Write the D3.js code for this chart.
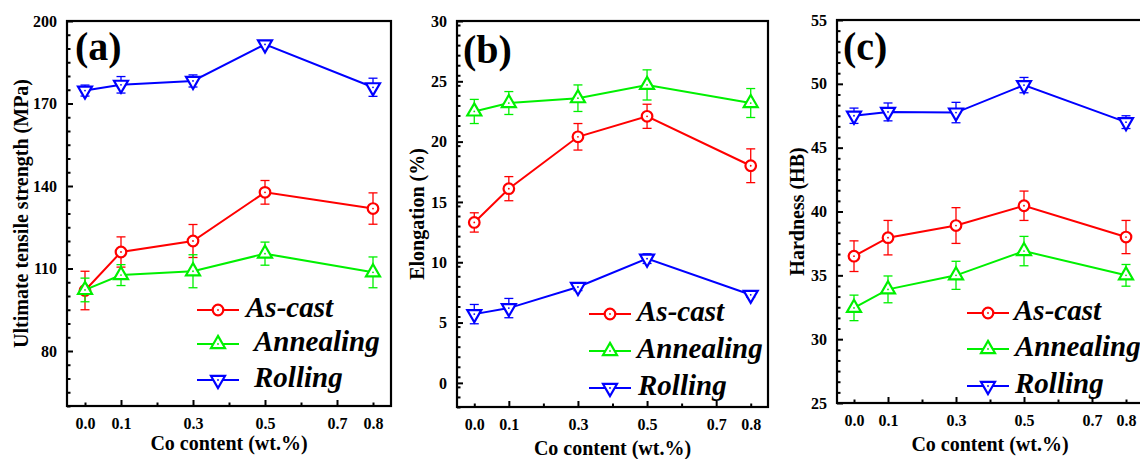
<!DOCTYPE html>
<html>
<head>
<meta charset="utf-8">
<script src="https://cdn.jsdelivr.net/npm/d3@7"></script>
<style>
  html, body { margin: 0; padding: 0; background: #fff; }
  svg { display: block; }
  text { font-family: "Liberation Serif", "Times New Roman", serif; font-weight: bold; fill: #000; }
</style>
</head>
<body>
<svg id="chart" width="1140" height="459"></svg>
<script>
// ---------------- DATA ----------------
const coContent = [0.0, 0.1, 0.3, 0.5, 0.8];
const xTickLabelValues = [0.0, 0.1, 0.3, 0.5, 0.7, 0.8];
const xTickLabels = ["0.0", "0.1", "0.3", "0.5", "0.7", "0.8"];
const xMajorTicks = [0.1, 0.3, 0.5, 0.7];
const xMinorTicks = [0.0, 0.2, 0.4, 0.6, 0.8];
const seriesNames = ["As-cast", "Annealing", "Rolling"];
const seriesColors = ["#ff0000", "#00f000", "#0000ff"];
const seriesMarkers = ["circle", "triangleUp", "triangleDown"];

// (a) Ultimate tensile strength (MPa)
const utsAsCast = [102.0, 116.0, 120.0, 137.7, 131.8];
const utsAsCastErr = [7.0, 5.5, 6.0, 4.3, 5.7];
const utsAnnealing = [102.2, 107.6, 109.0, 115.4, 108.6];
const utsAnnealingErr = [4.3, 3.8, 6.0, 4.2, 5.6];
const utsRolling = [174.7, 176.8, 178.2, 191.5, 175.9];
const utsRollingErr = [2.0, 3.0, 2.2, 1.0, 3.3];
const utsTicks = [80, 110, 140, 170, 200];

// (b) Elongation (%)
const elAsCast = [13.3, 16.1, 20.4, 22.1, 18.0];
const elAsCastErr = [0.8, 1.0, 1.1, 1.0, 1.4];
const elAnnealing = [22.5, 23.2, 23.6, 24.7, 23.2];
const elAnnealingErr = [1.0, 0.95, 1.1, 1.25, 1.2];
const elRolling = [5.7, 6.2, 7.95, 10.3, 7.3];
const elRollingErr = [0.8, 0.8, 0.3, 0.4, 0.2];
const elTicks = [0, 5, 10, 15, 20, 25, 30];

// (c) Hardness (HB)
const hbAsCast = [36.5, 37.95, 38.9, 40.45, 38.0];
const hbAsCastErr = [1.2, 1.35, 1.4, 1.15, 1.3];
const hbAnnealing = [32.45, 33.9, 35.0, 36.9, 35.0];
const hbAnnealingErr = [1.0, 1.05, 1.1, 1.15, 0.85];
const hbRolling = [47.5, 47.8, 47.75, 49.9, 47.0];
const hbRollingErr = [0.6, 0.7, 0.8, 0.6, 0.5];
const hbTicks = [25, 30, 35, 40, 45, 50, 55];

// ---------------- LAYOUT ----------------
const panels = [
  { label: "(a)", yTitle: "Ultimate tensile strength (MPa)",
    series: [[utsAsCast, utsAsCastErr], [utsAnnealing, utsAnnealingErr], [utsRolling, utsRollingErr]],
    yDomain: [60, 200], yTicks: utsTicks, minorStep: 5,
    left: 67, top: 21, right: 391, bottom: 406,
    labelPos: [75, 60], yTitleX: 21, xTitleOff: 44,
    legend: { x0: 197, rows: [310, 344, 380], textX: [246, 254, 254] } },
  { label: "(b)", yTitle: "Elongation (%)",
    series: [[elAsCast, elAsCastErr], [elAnnealing, elAnnealingErr], [elRolling, elRollingErr]],
    yDomain: [-2, 30], yTicks: elTicks, minorStep: 5 / 6,
    left: 457, top: 21, right: 768, bottom: 407,
    labelPos: [463, 63], yTitleX: 417, xTitleOff: 48,
    legend: { x0: 589, rows: [314, 351, 388], textX: [637, 637, 638] } },
  { label: "(c)", yTitle: "Hardness (HB)",
    series: [[hbAsCast, hbAsCastErr], [hbAnnealing, hbAnnealingErr], [hbRolling, hbRollingErr]],
    yDomain: [25, 55], yTicks: hbTicks, minorStep: 5 / 6,
    left: 837, top: 20, right: 1143, bottom: 403,
    labelPos: [843, 60], yTitleX: 797, xTitleOff: 48,
    legend: { x0: 967, rows: [313, 349, 386], textX: [1014, 1015, 1015] } }
];

const svg = d3.select("#chart");

function markerPath(type) {
  if (type === "circle") return null;
  const s = 14, h = s * Math.sqrt(3) / 2;
  return `M0,${-2 * h / 3}L${s / 2},${h / 3}L${-s / 2},${h / 3}Z`;
}

function drawMarker(g, type, cx, cy, color) {
  const m = g.append("g").attr("transform", `translate(${cx},${cy})`);
  if (type === "circle") {
    m.append("circle").attr("r", 5.3).attr("fill", "#fff").attr("stroke", color).attr("stroke-width", 2.2);
  } else {
    m.append("path").attr("d", markerPath(type))
      .attr("transform", type === "triangleDown" ? "rotate(180)" : null)
      .attr("fill", "#fff").attr("stroke", color).attr("stroke-width", 2.2).attr("stroke-linejoin", "miter");
  }
  m.append("circle").attr("r", 0.9).attr("fill", color);
}

panels.forEach(p => {
  const x = d3.scaleLinear().domain([-0.05, 0.85]).range([p.left, p.right]);
  const y = d3.scaleLinear().domain(p.yDomain).range([p.bottom, p.top]);
  const g = svg.append("g");

  // minor y ticks
  const minor = [];
  for (let v = p.yDomain[0]; v <= p.yDomain[1] + 1e-9; v += p.minorStep) minor.push(+v.toFixed(4));
  const minorY = minor.filter(v => !p.yTicks.some(t => Math.abs(t - v) < 1e-6));
  g.append("g").attr("transform", `translate(${p.left},0)`)
    .call(d3.axisLeft(y).tickValues(minorY).tickSizeInner(-3.5).tickSizeOuter(0).tickFormat(""))
    .call(a => a.select(".domain").remove())
    .call(a => a.selectAll("line").attr("stroke", "#000").attr("stroke-width", 2));

  // major y ticks with labels
  g.append("g").attr("transform", `translate(${p.left},0)`)
    .call(d3.axisLeft(y).tickValues(p.yTicks).tickSizeInner(-6).tickSizeOuter(0).tickPadding(10).tickFormat(d3.format("d")))
    .call(a => a.select(".domain").remove())
    .call(a => a.selectAll("line").attr("stroke", "#000").attr("stroke-width", 2))
    .call(a => a.selectAll("text").attr("font-size", 16).attr("font-family", "Liberation Serif, serif").attr("font-weight", "bold").attr("fill", "#000"));

  // x ticks
  g.append("g").attr("transform", `translate(0,${p.bottom})`)
    .call(d3.axisBottom(x).tickValues(xMinorTicks).tickSizeInner(-3.5).tickSizeOuter(0).tickFormat(""))
    .call(a => a.select(".domain").remove())
    .call(a => a.selectAll("line").attr("stroke", "#000").attr("stroke-width", 2));
  g.append("g").attr("transform", `translate(0,${p.bottom})`)
    .call(d3.axisBottom(x).tickValues(xMajorTicks).tickSizeInner(-6).tickSizeOuter(0).tickFormat(""))
    .call(a => a.select(".domain").remove())
    .call(a => a.selectAll("line").attr("stroke", "#000").attr("stroke-width", 2));
  // x tick labels
  g.append("g").attr("transform", `translate(0,${p.bottom})`)
    .call(d3.axisBottom(x).tickValues(xTickLabelValues).tickSize(0).tickPadding(11.5)
      .tickFormat((d, i) => xTickLabels[i]))
    .call(a => a.select(".domain").remove())
    .call(a => a.selectAll("text").attr("font-size", 16).attr("font-family", "Liberation Serif, serif").attr("font-weight", "bold").attr("fill", "#000"));

  // frame
  g.append("rect").attr("x", p.left).attr("y", p.top)
    .attr("width", p.right - p.left).attr("height", p.bottom - p.top)
    .attr("fill", "none").attr("stroke", "#000").attr("stroke-width", 2.2);

  // titles
  g.append("text").attr("x", (p.left + p.right) / 2).attr("y", p.bottom + p.xTitleOff)
    .attr("text-anchor", "middle").attr("font-size", 20).text("Co content (wt.%)");
  g.append("text").attr("transform", `translate(${p.yTitleX},${(p.top + p.bottom) / 2}) rotate(-90)`)
    .attr("text-anchor", "middle").attr("dy", "0.35em").attr("font-size", 20).text(p.yTitle);
  g.append("text").attr("x", p.labelPos[0]).attr("y", p.labelPos[1])
    .attr("font-size", 40).text(p.label);

  // series
  p.series.forEach(([vals, errs], si) => {
    const color = seriesColors[si];
    const sg = g.append("g");
    vals.forEach((v, i) => {
      const cx = x(coContent[i]);
      const y1 = y(v + errs[i]), y2 = y(v - errs[i]);
      sg.append("line").attr("x1", cx).attr("x2", cx).attr("y1", y1).attr("y2", y2)
        .attr("stroke", color).attr("stroke-width", 1.3);
      [y1, y2].forEach(yy => sg.append("line").attr("x1", cx - 4.5).attr("x2", cx + 4.5)
        .attr("y1", yy).attr("y2", yy).attr("stroke", color).attr("stroke-width", 1.3));
    });
    sg.append("path").datum(vals)
      .attr("d", d3.line().x((d, i) => x(coContent[i])).y(d => y(d)))
      .attr("fill", "none").attr("stroke", color).attr("stroke-width", 2);
    vals.forEach((v, i) => drawMarker(sg, seriesMarkers[si], x(coContent[i]), y(v), color));
  });

  // legend
  seriesNames.forEach((name, si) => {
    const ry = p.legend.rows[si], color = seriesColors[si];
    g.append("line").attr("x1", p.legend.x0).attr("x2", p.legend.x0 + 42)
      .attr("y1", ry).attr("y2", ry).attr("stroke", color).attr("stroke-width", 2);
    drawMarker(g, seriesMarkers[si], p.legend.x0 + 21, ry, color);
    g.append("text").attr("x", p.legend.textX[si]).attr("y", ry + 7)
      .attr("font-size", 29).attr("font-style", "italic").text(name);
  });
});
</script>
</body>
</html>
